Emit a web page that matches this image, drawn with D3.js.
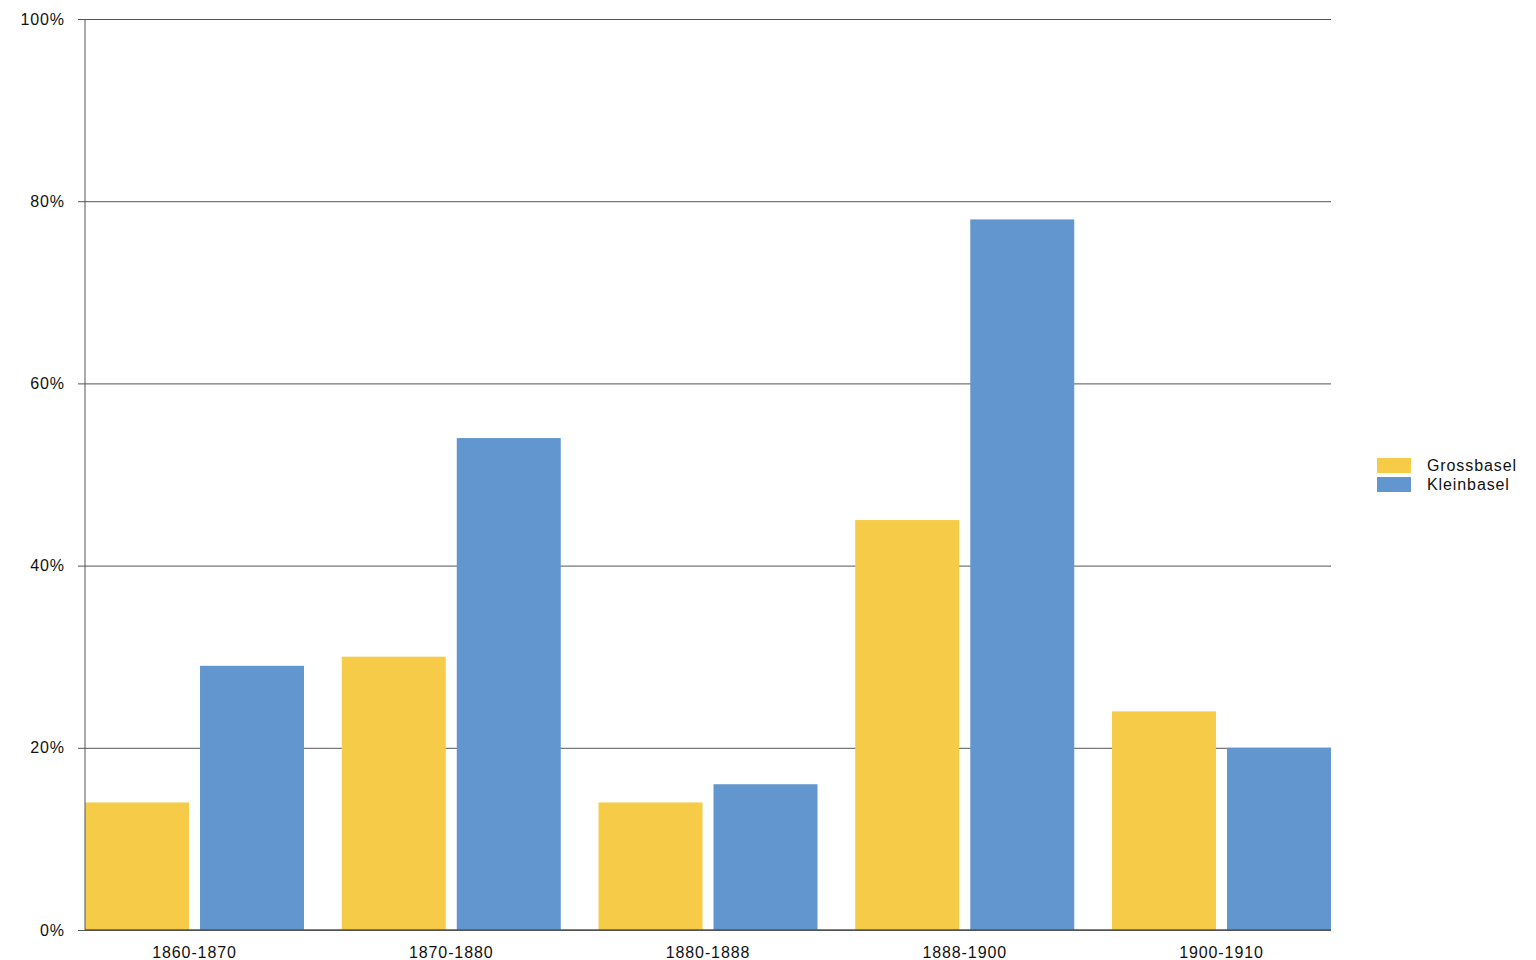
<!DOCTYPE html>
<html>
<head>
<meta charset="utf-8">
<script src="https://cdn.jsdelivr.net/npm/d3@7"></script>
<style>
  body { margin: 0; background: #fff; }
  text { font-family: "Liberation Sans", Arial, sans-serif; font-size: 16px; fill: #111; letter-spacing: 0.9px; }
</style>
</head>
<body>
<svg id="chart" width="1536" height="960"></svg>
<script>
const periods = ['1860-1870', '1870-1880', '1880-1888', '1888-1900', '1900-1910'];
const seriesNames = ['Grossbasel', 'Kleinbasel'];
const grossbasel = [14, 30, 14, 45, 24];
const kleinbasel = [29, 54, 16, 78, 20];
const yTicks = [0, 20, 40, 60, 80, 100];
const colors = ['#F6CB47', '#6196CE'];

const margin = {top: 19, right: 205, bottom: 30, left: 85};
const svg = d3.select('#chart');
const width = 1536 - margin.left - margin.right;
const height = 960 - margin.top - margin.bottom;

const g = svg.append('g')
  .attr('transform', `translate(${margin.left},${margin.top})`);

const x0 = d3.scaleBand().domain(periods).range([0, width]).paddingInner(0.147).paddingOuter(0);
const x1 = d3.scaleBand().domain(seriesNames).range([0, x0.bandwidth()]).paddingInner(0.096);
const y = d3.scaleLinear().domain([0, 100]).range([height, 0]);

// gridlines + y ticks
const yAxis = g.append('g')
  .call(d3.axisLeft(y).tickValues(yTicks).tickSize(-width - 7).tickFormat(d => d + '%'))
  .call(s => s.select('.domain').remove())
  .attr('font-size', null).attr('font-family', null);
yAxis.selectAll('.tick line')
  .attr('x1', -7).attr('x2', width)
  .attr('stroke', '#555').attr('stroke-width', 1);
yAxis.selectAll('.tick text')
  .attr('x', -20).attr('dy', '0.32em')
  .attr('fill', '#111');

const rows = periods.map((p, i) => ({period: p, values: [grossbasel[i], kleinbasel[i]]}));

g.append('g').selectAll('g').data(rows).join('g')
  .attr('transform', d => `translate(${x0(d.period)},0)`)
  .selectAll('rect').data(d => d.values.map((v, j) => ({name: seriesNames[j], value: v, c: colors[j]})))
  .join('rect')
  .attr('x', d => x1(d.name))
  .attr('width', x1.bandwidth())
  .attr('y', d => y(d.value))
  .attr('height', d => height - y(d.value))
  .attr('fill', d => d.c);

// axis lines
g.append('line').attr('x1', 0).attr('x2', 0).attr('y1', 0).attr('y2', height)
  .attr('stroke', '#555').attr('stroke-width', 1);
g.append('line').attr('x1', 0).attr('x2', width).attr('y1', height).attr('y2', height)
  .attr('stroke', '#555').attr('stroke-width', 1.5);

// x labels
g.append('g').selectAll('text').data(periods).join('text')
  .attr('x', d => x0(d) + x0.bandwidth() / 2)
  .attr('y', height + 28)
  .attr('text-anchor', 'middle')
  .text(d => d);

// legend
const legend = svg.append('g').attr('transform', 'translate(1377,458)');
seriesNames.forEach((n, i) => {
  legend.append('rect').attr('x', 0).attr('y', i * 19).attr('width', 34).attr('height', 15).attr('fill', colors[i]);
  legend.append('text').attr('x', 50).attr('y', i * 19 + 13).text(n);
});
</script>
</body>
</html>
